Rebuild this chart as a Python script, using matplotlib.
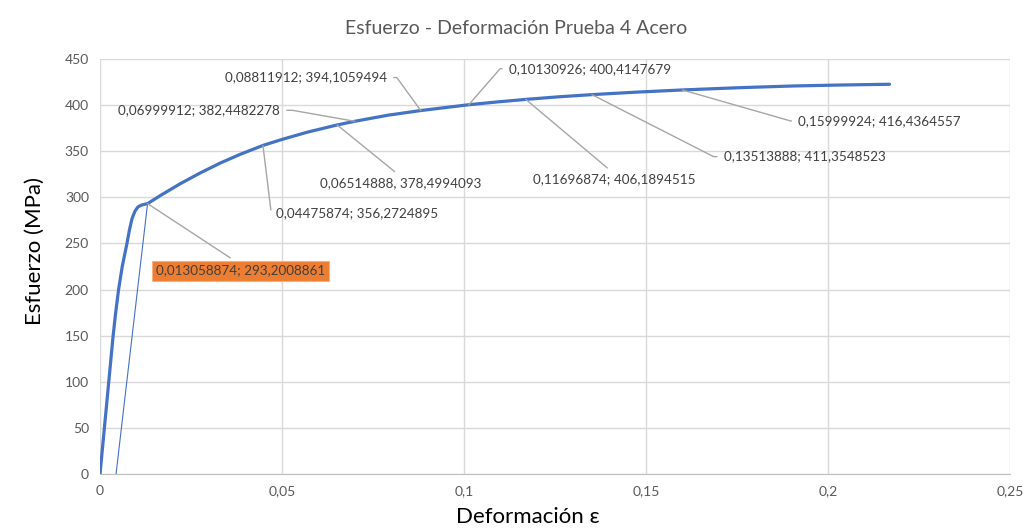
import numpy as np
import matplotlib.pyplot as plt

plt.rcParams['font.family'] = ['Lato', 'DejaVu Sans']

# Curva esfuerzo-deformación (prueba 4, acero)
deformacion = [0.0, 0.0012, 0.0024, 0.0036, 0.0043, 0.0051, 0.0061, 0.0074, 0.0081,
               0.0088, 0.0096, 0.0104, 0.0113, 0.013058874, 0.0166, 0.0221, 0.0276,
               0.0331, 0.0386, 0.04475874, 0.05, 0.0569, 0.06514888, 0.06999912,
               0.079, 0.08811912, 0.10130926, 0.109, 0.11696874, 0.126, 0.13513888,
               0.147, 0.15999924, 0.175, 0.19, 0.2035, 0.2169]
esfuerzo = [0.0, 50.0, 100.0, 150.0, 175.0, 200.0, 225.0, 250.0, 265.0,
            277.0, 285.0, 289.5, 291.5, 293.2008861, 302.0, 314.9, 326.6,
            337.3, 346.8, 356.2724895, 362.8, 370.6, 378.4994093, 382.4482278,
            389.0, 394.1059494, 400.4147679, 403.4, 406.1894515, 409.0, 411.3548523,
            414.0, 416.4364557, 418.8, 420.7, 421.8, 422.6]

# Recta paralela desplazada hasta el punto de fluencia
offset_x = [0.0044, 0.013058874]
offset_y = [0.0, 293.2008861]

# Puntos etiquetados
etiquetas_x = [0.08811912, 0.06999912, 0.06514888, 0.04475874, 0.10130926,
               0.11696874, 0.13513888, 0.15999924, 0.013058874]
etiquetas_y = [394.1059494, 382.4482278, 378.4994093, 356.2724895, 400.4147679,
               406.1894515, 411.3548523, 416.4364557, 293.2008861]
etiquetas_txt = ['0,08811912; 394,1059494', '0,06999912; 382,4482278',
                 '0,06514888, 378,4994093', '0,04475874; 356,2724895',
                 '0,10130926; 400,4147679', '0,11696874; 406,1894515',
                 '0,13513888; 411,3548523', '0,15999924; 416,4364557',
                 '0,013058874; 293,2008861']

x_ticks = [0, 0.05, 0.1, 0.15, 0.2, 0.25]
x_ticklabels = ['0', '0,05', '0,1', '0,15', '0,2', '0,25']
y_ticks = list(range(0, 451, 50))

azul = '#4472C4'
gris_txt = '#404040'
gris_linea = '#A6A6A6'

fig = plt.figure(figsize=(10.28, 5.31), dpi=100)
ax = fig.add_axes([0.0973, 0.1073, 0.8852, 0.7816])

ax.plot(deformacion, esfuerzo, color=azul, lw=2.3, solid_capstyle='round',
        solid_joinstyle='round', zorder=3)
ax.plot(offset_x, offset_y, color=azul, lw=0.8, zorder=3)

ax.set_xlim(0, 0.25)
ax.set_ylim(0, 450)
ax.set_xticks(x_ticks)
ax.set_xticklabels(x_ticklabels)
ax.set_yticks(y_ticks)
ax.grid(True, color='#D9D9D9', lw=1)
ax.set_axisbelow(True)
for s in ['top', 'right', 'left']:
    ax.spines[s].set_visible(False)
ax.spines['bottom'].set_color('#BFBFBF')
ax.tick_params(length=0, labelsize=10, labelcolor='#595959', pad=8)

# (dx, dy en pixeles, ha, estilo de conexion, relpos)
posiciones = [
    (-34, 33, 'right', 'angle,angleA=0,angleB=126,rad=0', (1, 0.5)),
    (-75, 11, 'right', 'angle,angleA=0,angleB=170,rad=0', (1, 0.5)),
    (64, -58, 'center', 'arc3', (0.5, 1)),
    (13, -68, 'left', 'angle,angleA=0,angleB=-83,rad=0', (0, 0.5)),
    (40, 36, 'left', 'angle,angleA=0,angleB=49,rad=0', (0, 0.5)),
    (88, -80, 'center', 'arc3', (0.5, 1)),
    (132, -62, 'left', 'angle,angleA=0,angleB=-27,rad=0', (0, 0.5)),
    (116, -31, 'left', 'angle,angleA=0,angleB=-16,rad=0', (0, 0.5)),
    (93, -67, 'center', 'arc3', (0.5, 1)),
]

for i, (x, y, txt) in enumerate(zip(etiquetas_x, etiquetas_y, etiquetas_txt)):
    dx, dy, ha, con, rp = posiciones[i]
    caja = None
    if i == len(etiquetas_x) - 1:
        caja = dict(boxstyle='square,pad=0.3', fc='#ED7D31', ec='#F4B183', lw=0.8)
    ax.annotate(txt, xy=(x, y), xytext=(dx, dy), textcoords='offset pixels',
                ha=ha, va='center', fontsize=9.7, color=gris_txt, bbox=caja,
                arrowprops=dict(arrowstyle='-', color=gris_linea, lw=1,
                                connectionstyle=con, relpos=rp,
                                shrinkA=3, shrinkB=0),
                zorder=4)

fig.text(0.5025, 0.947, 'Esfuerzo - Deformación Prueba 4 Acero', ha='center', va='center',
         fontsize=14, color='#595959')
fig.text(0.034, 0.527, 'Esfuerzo (MPa)', rotation=90, ha='center', va='center',
         fontsize=16, color='black')
fig.text(0.5136, 0.026, 'Deformación ε', ha='center', va='center',
         fontsize=16, color='black')

fig.savefig('out.png', dpi=100)
